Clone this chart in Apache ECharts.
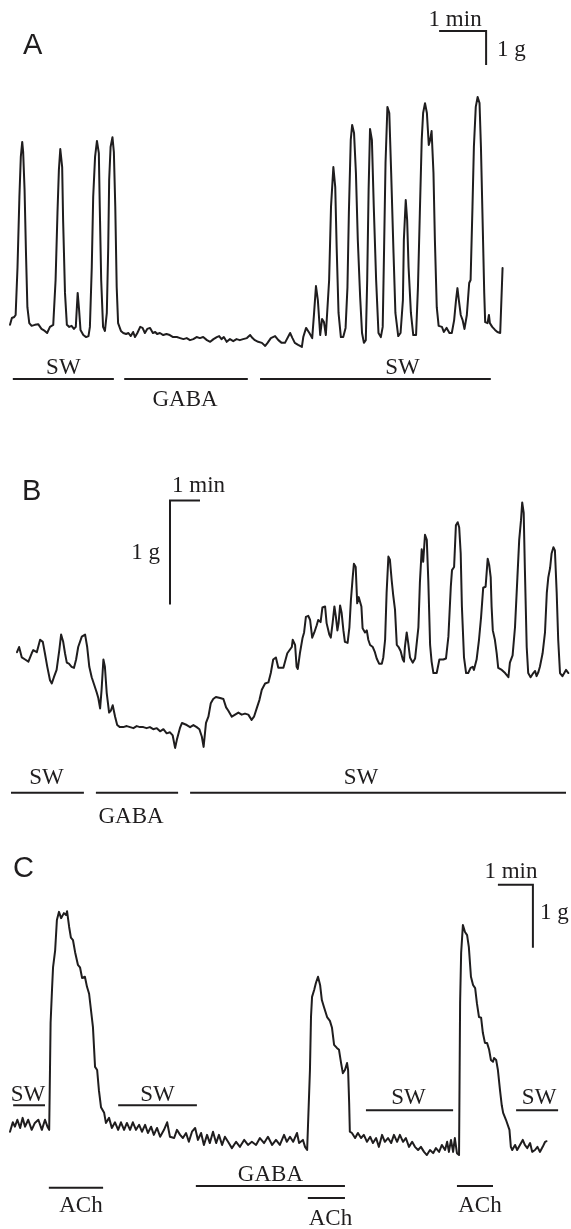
<!DOCTYPE html>
<html>
<head>
<meta charset="utf-8">
<script src="https://cdn.jsdelivr.net/npm/echarts@6/dist/echarts.min.js"></script>
<style>
  html, body { margin: 0; padding: 0; background: #ffffff; }
  #chart { width: 571px; height: 1229px; }
</style>
</head>
<body>
<div id="chart"></div>
<script>
// ---------- Recorded tension traces: [time (min), tension (g)] ----------
// A: spontaneous contractions in SW, suppressed by GABA, then recovery in SW
const traceA = [
  [0,0.74],[0.04,0.94],[0.09,0.97],[0.12,1.03],[0.16,2.44],[0.20,4.50],[0.23,5.68],[0.26,6.12],[0.28,5.82],[0.31,4.71],
  [0.34,2.85],[0.37,1.26],[0.41,0.79],[0.46,0.71],[0.53,0.74],[0.60,0.76],[0.67,0.62],[0.74,0.56],[0.79,0.50],[0.85,0.68],
  [0.92,0.74],[0.94,0.79],[0.97,2.06],[1.01,4.03],[1.04,5.29],[1.07,5.91],[1.11,5.38],[1.13,3.82],[1.17,1.68],[1.21,0.74],
  [1.26,0.68],[1.31,0.71],[1.36,0.62],[1.40,0.68],[1.44,1.68],[1.47,1.18],[1.50,0.59],[1.56,0.44],[1.62,0.38],[1.67,0.41],
  [1.70,0.68],[1.74,2.44],[1.77,4.50],[1.81,5.68],[1.85,6.15],[1.89,5.79],[1.91,4.21],[1.94,2.06],[1.98,0.68],[2.02,0.56],
  [2.06,1.09],[2.09,3.03],[2.11,5.00],[2.14,5.97],[2.18,6.26],[2.21,5.82],[2.24,4.21],[2.27,1.85],[2.30,0.79],[2.36,0.56],
  [2.41,0.50],[2.47,0.47],[2.52,0.50],[2.57,0.41],[2.62,0.53],[2.66,0.38],[2.71,0.50],[2.77,0.68],[2.82,0.65],[2.87,0.50],
  [2.92,0.62],[2.98,0.65],[3.04,0.50],[3.09,0.53],[3.13,0.47],[3.19,0.50],[3.26,0.44],[3.33,0.47],[3.40,0.44],[3.47,0.38],
  [3.55,0.38],[3.62,0.35],[3.69,0.32],[3.76,0.35],[3.83,0.29],[3.90,0.32],[3.97,0.38],[4.04,0.35],[4.11,0.38],[4.19,0.29],
  [4.26,0.24],[4.33,0.32],[4.40,0.38],[4.45,0.41],[4.50,0.32],[4.55,0.38],[4.61,0.24],[4.68,0.32],[4.75,0.26],[4.82,0.32],
  [4.89,0.29],[4.96,0.32],[5.04,0.35],[5.11,0.44],[5.16,0.35],[5.21,0.29],[5.28,0.24],[5.36,0.21],[5.43,0.12],[5.48,0.21],
  [5.55,0.35],[5.64,0.41],[5.71,0.29],[5.78,0.21],[5.85,0.21],[5.96,0.50],[6.01,0.35],[6.06,0.21],[6.13,0.15],[6.21,0.09],
  [6.24,0.38],[6.30,0.65],[6.37,0.50],[6.43,0.35],[6.47,1.09],[6.51,1.88],[6.55,1.47],[6.60,0.44],[6.64,0.91],[6.68,0.82],
  [6.72,0.44],[6.76,0.44],[6.79,2.06],[6.83,4.21],[6.88,5.38],[6.92,4.79],[6.95,3.03],[6.99,1.09],[7.04,0.38],[7.09,0.38],
  [7.14,0.65],[7.18,1.85],[7.21,4.03],[7.25,6.18],[7.28,6.62],[7.32,6.38],[7.36,5.21],[7.40,3.24],[7.45,1.56],[7.49,0.50],
  [7.53,0.21],[7.57,0.29],[7.60,2.06],[7.63,4.71],[7.66,6.50],[7.70,6.18],[7.74,4.21],[7.79,2.06],[7.84,0.50],[7.89,0.38],
  [7.93,0.68],[7.96,3.03],[7.99,5.50],[8.03,7.15],[8.07,6.97],[8.11,5.21],[8.16,2.85],[8.20,1.09],[8.26,0.41],[8.31,0.50],
  [8.36,1.47],[8.38,3.24],[8.42,4.41],[8.45,3.82],[8.48,2.44],[8.53,1.09],[8.58,0.44],[8.64,0.44],[8.68,1.85],[8.72,4.03],
  [8.76,6.18],[8.79,6.97],[8.83,7.26],[8.87,6.97],[8.91,6.03],[8.94,6.18],[8.97,6.44],[9.01,5.21],[9.04,3.24],[9.08,1.26],
  [9.12,0.71],[9.19,0.68],[9.23,0.53],[9.29,0.65],[9.35,0.50],[9.40,0.50],[9.45,0.88],[9.49,1.47],[9.52,1.82],[9.55,1.47],
  [9.59,1.03],[9.63,0.88],[9.67,0.62],[9.72,1.03],[9.77,1.97],[9.80,2.06],[9.84,4.21],[9.87,5.97],[9.91,7.15],[9.95,7.44],
  [9.99,7.26],[10.02,5.97],[10.06,3.53],[10.09,1.68],[10.11,0.82],[10.16,0.79],[10.19,1.03],[10.21,0.79],[10.26,0.68],[10.32,0.59],
  [10.37,0.53],[10.43,0.50],[10.46,0.53],[10.48,2.41]
];

// B: irregular activity in SW, tone drop in GABA, slow return and rhythmic contractions in SW
const traceB = [
  [0,0.94],[0.07,0.99],[0.16,0.89],[0.27,0.87],[0.38,0.85],[0.49,0.93],[0.54,0.96],[0.66,0.94],[0.77,1.06],[0.86,1.04],
  [0.93,0.93],[1.01,0.80],[1.10,0.67],[1.16,0.64],[1.23,0.70],[1.32,0.77],[1.41,0.96],[1.47,1.11],[1.54,1.04],[1.60,0.93],
  [1.66,0.84],[1.73,0.83],[1.82,0.80],[1.90,0.79],[1.97,0.87],[2.04,0.99],[2.16,1.09],[2.27,1.11],[2.34,0.99],[2.41,0.80],
  [2.49,0.70],[2.57,0.63],[2.66,0.55],[2.71,0.50],[2.77,0.40],[2.82,0.58],[2.88,0.87],[2.93,0.80],[2.99,0.55],[3.07,0.36],
  [3.13,0.38],[3.19,0.43],[3.27,0.32],[3.34,0.24],[3.43,0.22],[3.54,0.22],[3.66,0.23],[3.77,0.22],[3.88,0.21],[3.99,0.23],
  [4.10,0.22],[4.21,0.22],[4.32,0.21],[4.43,0.22],[4.54,0.20],[4.66,0.21],[4.77,0.18],[4.88,0.20],[4.99,0.16],[5.10,0.17],
  [5.19,0.14],[5.27,0.02],[5.33,0.10],[5.43,0.21],[5.50,0.26],[5.66,0.24],[5.77,0.22],[5.88,0.24],[5.99,0.22],[6.08,0.20],
  [6.16,0.13],[6.22,0.03],[6.30,0.26],[6.38,0.32],[6.46,0.45],[6.54,0.49],[6.63,0.51],[6.77,0.50],[6.88,0.49],[6.97,0.41],
  [7.04,0.38],[7.16,0.32],[7.27,0.34],[7.38,0.36],[7.49,0.34],[7.60,0.35],[7.71,0.34],[7.82,0.29],[7.90,0.32],[7.99,0.40],
  [8.08,0.48],[8.16,0.58],[8.27,0.64],[8.38,0.65],[8.46,0.74],[8.54,0.87],[8.63,0.89],[8.71,0.79],[8.88,0.79],[9.01,0.93],
  [9.16,0.99],[9.19,1.06],[9.27,1.01],[9.32,0.80],[9.36,0.78],[9.43,0.93],[9.52,1.08],[9.57,1.13],[9.63,1.28],[9.71,1.29],
  [9.77,1.25],[9.84,1.08],[9.91,1.13],[9.99,1.20],[10.04,1.25],[10.12,1.23],[10.18,1.37],[10.27,1.38],[10.32,1.22],[10.41,1.11],
  [10.46,1.08],[10.52,1.22],[10.58,1.38],[10.63,1.28],[10.68,1.15],[10.72,1.22],[10.77,1.39],[10.82,1.32],[10.88,1.15],[10.93,1.04],
  [11.02,1.03],[11.08,1.18],[11.13,1.44],[11.19,1.66],[11.23,1.79],[11.29,1.76],[11.34,1.41],[11.39,1.47],[11.44,1.48],[11.48,1.38],
  [11.52,1.17],[11.60,1.13],[11.66,1.15],[11.71,1.06],[11.77,1.01],[11.86,0.99],[11.93,0.94],[11.99,0.88],[12.07,0.83],[12.16,0.83],
  [12.21,0.89],[12.27,1.06],[12.32,1.51],[12.38,1.86],[12.43,1.83],[12.49,1.63],[12.54,1.49],[12.60,1.35],[12.66,1.01],[12.72,0.99],
  [12.79,0.95],[12.86,0.87],[12.90,0.85],[12.93,0.99],[12.99,1.13],[13.04,1.03],[13.10,0.89],[13.19,0.84],[13.27,0.88],[13.32,0.89],
  [13.38,1.18],[13.43,1.61],[13.49,1.93],[13.54,1.81],[13.60,2.07],[13.66,2.02],[13.71,1.63],[13.77,1.01],[13.82,0.85],[13.88,0.74],
  [13.99,0.74],[14.08,0.87],[14.21,0.87],[14.30,0.88],[14.38,1.09],[14.46,1.57],[14.50,1.73],[14.57,1.76],[14.63,2.16],[14.69,2.19],
  [14.74,2.14],[14.79,1.89],[14.83,1.38],[14.90,0.89],[14.97,0.74],[15.04,0.74],[15.12,0.79],[15.19,0.80],[15.23,0.77],[15.32,0.87],
  [15.40,1.06],[15.47,1.28],[15.54,1.56],[15.62,1.57],[15.69,1.84],[15.74,1.78],[15.79,1.66],[15.82,1.38],[15.86,1.15],[15.93,1.06],
  [15.99,0.93],[16.04,0.79],[16.16,0.77],[16.27,0.74],[16.38,0.70],[16.43,0.84],[16.52,0.91],[16.60,1.18],[16.68,1.66],[16.74,2.02],
  [16.80,2.21],[16.84,2.38],[16.89,2.28],[16.93,1.73],[16.99,0.99],[17.04,0.74],[17.12,0.70],[17.21,0.74],[17.27,0.76],[17.32,0.71],
  [17.38,0.75],[17.43,0.80],[17.52,0.93],[17.60,1.13],[17.66,1.51],[17.71,1.66],[17.77,1.75],[17.82,1.89],[17.88,1.95],[17.93,1.92],
  [17.99,1.51],[18.04,1.06],[18.10,0.74],[18.18,0.71],[18.23,0.72],[18.30,0.77],[18.38,0.74]
];

// C: ACh-evoked contractions before, during and after GABA
const traceC = [
  [0,0.29],[0.08,0.44],[0.14,0.37],[0.21,0.48],[0.29,0.35],[0.36,0.51],[0.43,0.37],[0.52,0.48],[0.62,0.32],[0.71,0.43],
  [0.81,0.48],[0.91,0.32],[1.00,0.48],[1.07,0.37],[1.12,0.32],[1.16,2.02],[1.20,2.54],[1.23,2.90],[1.29,3.17],[1.34,3.65],
  [1.40,3.78],[1.46,3.68],[1.54,3.76],[1.60,3.73],[1.63,3.79],[1.69,3.54],[1.74,3.37],[1.80,3.33],[1.86,3.14],[1.94,2.94],
  [2.00,2.90],[2.06,2.73],[2.14,2.75],[2.20,2.59],[2.26,2.48],[2.31,2.49],[2.37,1.95],[2.43,1.32],[2.49,1.27],[2.54,0.95],
  [2.60,0.68],[2.69,0.59],[2.74,0.43],[2.83,0.51],[2.91,0.35],[3.00,0.44],[3.09,0.32],[3.17,0.44],[3.26,0.32],[3.34,0.43],
  [3.43,0.32],[3.51,0.44],[3.60,0.32],[3.69,0.40],[3.77,0.29],[3.86,0.40],[3.94,0.27],[4.03,0.37],[4.11,0.24],[4.20,0.35],
  [4.29,0.21],[4.40,0.32],[4.49,0.44],[4.57,0.21],[4.69,0.19],[4.77,0.32],[4.86,0.24],[4.94,0.19],[5.03,0.27],[5.11,0.13],
  [5.20,0.29],[5.29,0.35],[5.37,0.16],[5.46,0.27],[5.54,0.08],[5.63,0.24],[5.71,0.11],[5.80,0.29],[5.89,0.11],[5.97,0.24],
  [6.06,0.08],[6.14,0.21],[6.23,0.13],[6.34,0.03],[6.46,0.13],[6.57,0.05],[6.69,0.16],[6.80,0.08],[6.91,0.13],[7.03,0.08],
  [7.14,0.19],[7.26,0.11],[7.37,0.21],[7.49,0.08],[7.60,0.16],[7.71,0.08],[7.83,0.24],[7.91,0.13],[8.00,0.21],[8.09,0.13],
  [8.20,0.27],[8.26,0.11],[8.37,0.16],[8.43,0.05],[8.49,0.00],[8.54,-0.03],[8.57,1.27],[8.60,2.11],[8.63,2.43],[8.69,2.54],
  [8.74,2.65],[8.80,2.75],[8.86,2.62],[8.91,2.38],[8.97,2.27],[9.06,2.11],[9.14,2.05],[9.20,1.94],[9.26,1.67],[9.34,1.62],
  [9.40,1.59],[9.46,1.38],[9.51,1.22],[9.57,1.27],[9.63,1.38],[9.66,1.27],[9.69,0.75],[9.71,0.29],[9.77,0.27],[9.86,0.19],
  [9.94,0.27],[10.03,0.19],[10.11,0.24],[10.20,0.13],[10.29,0.21],[10.37,0.11],[10.46,0.19],[10.54,0.05],[10.63,0.24],[10.71,0.13],
  [10.80,0.19],[10.89,0.11],[10.97,0.24],[11.06,0.13],[11.14,0.24],[11.23,0.13],[11.31,0.19],[11.40,0.05],[11.49,0.13],[11.57,0.05],
  [11.66,0.00],[11.74,0.05],[11.83,-0.03],[11.91,-0.08],[12.00,0.00],[12.09,-0.05],[12.17,0.03],[12.26,-0.03],[12.34,0.08],[12.43,0.00],
  [12.49,0.13],[12.54,-0.03],[12.60,0.16],[12.66,-0.03],[12.71,0.19],[12.77,-0.05],[12.83,-0.08],[12.86,2.33],[12.89,3.13],[12.94,3.57],
  [13.00,3.46],[13.06,3.41],[13.11,3.22],[13.17,2.75],[13.23,2.62],[13.29,2.57],[13.34,2.33],[13.40,2.11],[13.46,2.10],[13.51,1.86],
  [13.57,1.70],[13.63,1.70],[13.69,1.59],[13.74,1.43],[13.80,1.40],[13.83,1.46],[13.89,1.43],[13.94,1.27],[14.00,0.95],[14.05,0.71],
  [14.09,0.59],[14.17,0.48],[14.21,0.51],[14.27,0.32],[14.31,0.05],[14.35,0.00],[14.43,0.08],[14.49,0.00],[14.57,0.08],[14.65,0.16],
  [14.71,0.08],[14.78,0.03],[14.86,0.11],[14.92,-0.03],[15.00,0.00],[15.07,0.05],[15.14,-0.03],[15.22,0.05],[15.29,0.13],[15.33,0.14]
];

// ---------- Bath solutions: name, start (min), end (min) ----------
const solutionsA = ['SW', 'GABA', 'SW'];
const startsA    = [0.06, 2.43, 5.32];
const endsA      = [2.21, 5.06, 10.23];

const solutionsB = ['SW', 'GABA', 'SW'];
const startsB    = [-0.20, 2.63, 5.77];
const endsB      = [2.23, 5.37, 18.30];

const solutionsC = ['SW', 'ACh', 'SW', 'GABA', 'ACh', 'SW', 'ACh', 'SW'];
const startsC    = [0.09, 1.11, 3.09, 5.31, 8.51, 10.17, 12.77, 14.46];
const endsC      = [1.00, 2.66, 5.34, 9.57, 9.57, 12.66, 13.80, 15.66];

// Calibration bar units and panel letters
const scaleUnits = ['1 min', '1 g'];
const panelLetters = ['A', 'B', 'C'];

// ---------- Layout ----------
const W = 571;
const INK = '#1f1d1e';
const SERIF = '23px "Liberation Serif", "Times New Roman", serif';
const SANS = '29px "Liberation Sans", Arial, sans-serif';

const panels = [
  {
    trace: traceA, names: solutionsA, starts: startsA, ends: endsA,
    top: 0, height: 420, pxPerMin: 47, pxPerG: 34, originX: 10, originY: 350,
    levels: [-0.85, -0.85, -0.85], labelDx: [0, -1, 27], labelDy: [-11, 21, -11],
    scale: { at: [10.13, 9.38], dir: -1, minText: [-31, -11.5, 'center'], gText: [11, 19, 'left'] },
    letterAt: [23, 46]
  },
  {
    trace: traceB, names: solutionsB, starts: startsB, ends: endsB,
    top: 420, height: 420, pxPerMin: 30, pxPerG: 104, originX: 17, originY: 750,
    levels: [-0.41, -0.41, -0.41], labelDx: [-1, -6, -17], labelDy: [-15, 24, -15],
    scale: { at: [5.10, 2.40], dir: 1, minText: [2, -14.5, 'left'], gText: [-10, 52.5, 'right'] },
    letterAt: [22, 492]
  },
  {
    trace: traceC, names: solutionsC, starts: startsC, ends: endsC,
    top: 840, height: 389, pxPerMin: 35, pxPerG: 63, originX: 10, originY: 1150,
    levels: [0.71, -0.60, 0.71, -0.57, -0.76, 0.63, -0.57, 0.63],
    labelDx: [-1, 5, 0, 0, 4, -1, 5, 2],
    labelDy: [-10, 18, -10, -11, 21, -12, 20, -12],
    scale: { at: [14.94, 4.21], dir: -1, minText: [-22, -12.5, 'center'], gText: [7, 28.5, 'left'] },
    letterAt: [13, 869]
  }
];

const grid = [], xAxis = [], yAxis = [], series = [], graphic = [];

panels.forEach((p, i) => {
  grid.push({ left: 0, top: p.top, width: W, height: p.height, containLabel: false });
  xAxis.push({
    type: 'value', gridIndex: i, show: false, scale: true,
    min: (0 - p.originX) / p.pxPerMin, max: (W - p.originX) / p.pxPerMin
  });
  yAxis.push({
    type: 'value', gridIndex: i, show: false, scale: true,
    max: (p.originY - p.top) / p.pxPerG,
    min: (p.originY - p.top - p.height) / p.pxPerG
  });

  // Tension trace
  series.push({
    type: 'line', xAxisIndex: i, yAxisIndex: i, data: p.trace,
    showSymbol: false, symbol: 'none', silent: true, clip: false,
    lineStyle: { color: INK, width: 2, join: 'round', cap: 'round' }
  });

  // Solution bars with their labels
  series.push({
    type: 'custom', xAxisIndex: i, yAxisIndex: i, silent: true, clip: false,
    data: p.names.map((n, k) => [p.starts[k], p.ends[k], p.levels[k], p.labelDx[k], p.labelDy[k]]),
    renderItem: (params, api) => {
      const a = api.coord([api.value(0), api.value(2)]);
      const b = api.coord([api.value(1), api.value(2)]);
      return {
        type: 'group',
        children: [
          { type: 'line', shape: { x1: a[0], y1: a[1], x2: b[0], y2: b[1] },
            style: { stroke: INK, lineWidth: 2 } },
          { type: 'text', x: (a[0] + b[0]) / 2 + api.value(3), y: a[1] + api.value(4),
            style: { text: p.names[params.dataIndex], font: SERIF, fill: INK,
                     align: 'center', verticalAlign: 'middle' } }
        ]
      };
    }
  });

  // Calibration bar: 1 min horizontal, 1 g vertical
  series.push({
    type: 'custom', xAxisIndex: i, yAxisIndex: i, silent: true, clip: false,
    data: [[p.scale.at[0], p.scale.at[1], p.scale.dir]],
    renderItem: (params, api) => {
      const t = api.value(0), g = api.value(1), dir = api.value(2);
      const c = api.coord([t, g]);
      const h = api.coord([t + dir * 1, g]);
      const v = api.coord([t, g - 1]);
      const s = p.scale;
      return {
        type: 'group',
        children: [
          { type: 'polyline', shape: { points: [h, c, v] },
            style: { stroke: INK, lineWidth: 2, fill: null } },
          { type: 'text', x: c[0] + s.minText[0], y: c[1] + s.minText[1],
            style: { text: scaleUnits[0], font: SERIF, fill: INK, align: s.minText[2], verticalAlign: 'middle' } },
          { type: 'text', x: c[0] + s.gText[0], y: c[1] + s.gText[1],
            style: { text: scaleUnits[1], font: SERIF, fill: INK, align: s.gText[2], verticalAlign: 'middle' } }
        ]
      };
    }
  });

  graphic.push({
    type: 'text', x: p.letterAt[0], y: p.letterAt[1], silent: true,
    style: { text: panelLetters[i], font: SANS, fill: INK, align: 'left', verticalAlign: 'middle' }
  });
});

const chart = echarts.init(document.getElementById('chart'), null, { renderer: 'canvas' });
chart.setOption({
  backgroundColor: '#ffffff',
  animation: false,
  grid, xAxis, yAxis, series, graphic
});
</script>
</body>
</html>
